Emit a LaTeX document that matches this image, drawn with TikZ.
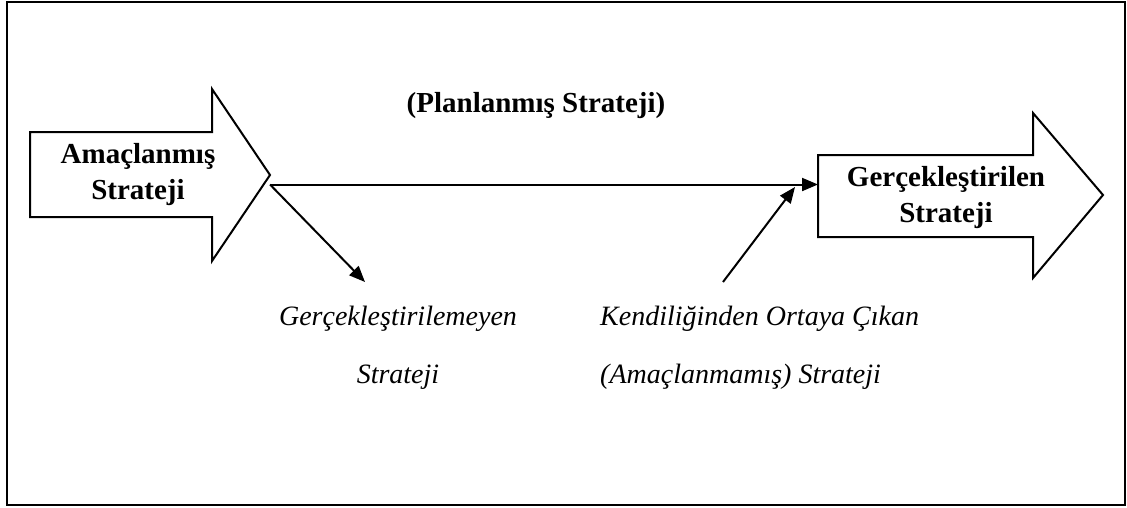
\documentclass[tikz,border=0pt]{standalone}
\usepackage{fontspec}
\setmainfont{Liberation Serif}
\usetikzlibrary{arrows.meta}
\begin{document}
\begin{tikzpicture}[x=1pt,y=-1pt,
  bigarrow/.style={draw=black,line width=2pt,line join=miter,fill=white},
  conn/.style={draw=black,line width=2pt,-{Triangle[length=16pt,width=13pt]}},
  boldlbl/.style={font=\fontsize{29}{36}\selectfont\bfseries,align=center,anchor=base,inner sep=0pt},
  itallbl/.style={font=\fontsize{28}{58}\selectfont\itshape,align=center,anchor=base,inner sep=0pt}]
\useasboundingbox (0,0) rectangle (1127,507);
% outer frame
\draw[line width=2.2pt] (7,2) rectangle (1125,505);
% block arrows
\draw[bigarrow] (30,132) -- (212,132) -- (212,89) -- (270,175) -- (212,261)
  -- (212,217) -- (30,217) -- cycle;
\draw[bigarrow] (818,155) -- (1033,155) -- (1033,113) -- (1103,195) -- (1033,278)
  -- (1033,237) -- (818,237) -- cycle;
% labels (base anchor sits on the last line)
\node[boldlbl] (amac) at (138,199) {Amaçlanmış\\Strateji};
\node[boldlbl] (gercek) at (946,222) {Gerçekleştirilen\\Strateji};
\node[boldlbl] (plan) at (536,112) {(Planlanmış Strateji)};
\node[itallbl] (unreal) at (398,383) {Gerçekleştirilemeyen\\Strateji};
\node[itallbl,align=left,anchor=base west] (emerg) at (600,383)
  {Kendiliğinden Ortaya Çıkan\\(Amaçlanmamış) Strateji};
% connector end points
\coordinate (split) at (270,184.5);
\coordinate (gin) at (818,184.5);
\coordinate (unrealtop) at (365,282);
\coordinate (emergtop) at (723,282);
\coordinate (emergtip) at (795,187);
% connectors
\draw[conn] (split) -- (gin);
\draw[conn] (split) -- (unrealtop);
\draw[conn] (emergtop) -- (emergtip);
\end{tikzpicture}
\end{document}
